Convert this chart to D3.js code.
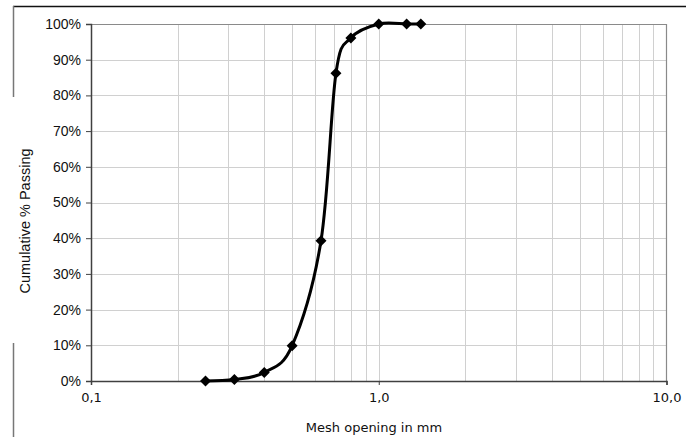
<!DOCTYPE html>
<html>
<head>
<meta charset="utf-8">
<script src="https://cdn.jsdelivr.net/npm/d3@7"></script>
<style>
  body { margin: 0; background: #fff; }
  svg { display: block; }
</style>
</head>
<body>
<div id="chart"></div>
<script>
// mesh openings (mm) and cumulative passing (%)
const meshSizes = [0.25, 0.315, 0.4, 0.5, 0.63, 0.71, 0.8, 1.0, 1.25, 1.4];
const passing = [0, 0.4, 2.4, 9.9, 39.3, 86.2, 96.1, 100, 100, 100];

const xMajorTicks = [0.1, 1, 10];
const xTickLabels = ['0,1', '1,0', '10,0'];
const yTicks = [0, 10, 20, 30, 40, 50, 60, 70, 80, 90, 100];

const width = 686, height = 437;
const plot = { left: 91, right: 666.5, top: 24, bottom: 381 };

const svg = d3.select('#chart').append('svg')
  .attr('width', width)
  .attr('height', height);

const xScale = d3.scaleLog()
  .domain([0.1, 10])
  .range([plot.left, plot.right]);

const yScale = d3.scaleLinear()
  .domain([0, 100])
  .range([plot.bottom, plot.top]);

// outer frame bits
svg.append('line')
  .attr('x1', 13).attr('x2', width).attr('y1', 6.5).attr('y2', 6.5)
  .attr('stroke', '#111').attr('stroke-width', 1.5);
svg.append('line')
  .attr('x1', 13.5).attr('x2', 13.5).attr('y1', 6).attr('y2', 97)
  .attr('stroke', '#777').attr('stroke-width', 1.5);
svg.append('line')
  .attr('x1', 13.5).attr('x2', 13.5).attr('y1', 343).attr('y2', height)
  .attr('stroke', '#777').attr('stroke-width', 1.5);

// grid
const gridX = [];
[0.1, 1].forEach(decade => {
  for (let i = 2; i <= 9; i++) gridX.push(decade * i);
});
gridX.push(1);

svg.append('g')
  .selectAll('line')
  .data(gridX)
  .join('line')
  .attr('x1', d => Math.round(xScale(d)) + 0.5)
  .attr('x2', d => Math.round(xScale(d)) + 0.5)
  .attr('y1', plot.top)
  .attr('y2', plot.bottom)
  .attr('stroke', '#d0d0d0')
  .attr('stroke-width', 1);

svg.append('g')
  .selectAll('line')
  .data(yTicks.filter(d => d > 0 && d < 100))
  .join('line')
  .attr('x1', plot.left)
  .attr('x2', plot.right)
  .attr('y1', d => Math.round(yScale(d)) + 0.5)
  .attr('y2', d => Math.round(yScale(d)) + 0.5)
  .attr('stroke', '#d0d0d0')
  .attr('stroke-width', 1);

// plot border top/right
svg.append('path')
  .attr('d', `M${plot.left},${plot.top + 0.5}H${plot.right}V${plot.bottom}`)
  .attr('fill', 'none')
  .attr('stroke', '#8a8a8a')
  .attr('stroke-width', 1.2);

// y axis
const yAxis = svg.append('g')
  .attr('transform', `translate(${plot.left},0)`)
  .call(d3.axisLeft(yScale).tickValues(yTicks).tickSize(5).tickPadding(5)
    .tickFormat(d => d + '%'));
yAxis.select('.domain').attr('stroke', '#404040').attr('stroke-width', 1.5);
yAxis.selectAll('.tick line').attr('stroke', '#404040');
yAxis.selectAll('text')
  .attr('font-family', 'Liberation Sans, Arial, sans-serif')
  .attr('font-size', 14)
  .attr('fill', '#111');

// x axis
const xAxis = svg.append('g')
  .attr('transform', `translate(0,${plot.bottom})`)
  .call(d3.axisBottom(xScale).tickValues(xMajorTicks).tickSize(4).tickPadding(8)
    .tickFormat((d, i) => xTickLabels[i]));
xAxis.select('.domain').attr('stroke', '#404040').attr('stroke-width', 1.5);
xAxis.selectAll('.tick line').attr('stroke', '#404040');
xAxis.selectAll('text')
  .attr('font-family', 'DejaVu Sans, Verdana, sans-serif')
  .attr('font-size', 13)
  .attr('fill', '#111');

// axis titles
svg.append('text')
  .attr('x', 374)
  .attr('y', 432)
  .attr('text-anchor', 'middle')
  .attr('font-family', 'DejaVu Sans, Verdana, sans-serif')
  .attr('font-size', 13)
  .attr('fill', '#111')
  .text('Mesh opening in mm');

svg.append('text')
  .attr('transform', 'translate(30,221) rotate(-90)')
  .attr('text-anchor', 'middle')
  .attr('font-family', 'Liberation Sans, Arial, sans-serif')
  .attr('font-size', 14.5)
  .attr('fill', '#111')
  .text('Cumulative % Passing');

// series
const points = meshSizes.map((d, i) => ({ size: d, pct: passing[i] }));

const line = d3.line()
  .x(d => xScale(d.size))
  .y(d => yScale(d.pct))
  .curve(d3.curveCardinal.tension(0));

svg.append('path')
  .datum(points)
  .attr('d', line)
  .attr('fill', 'none')
  .attr('stroke', '#000')
  .attr('stroke-width', 3);

svg.append('g')
  .selectAll('path')
  .data(points)
  .join('path')
  .attr('transform', d => `translate(${xScale(d.size)},${yScale(d.pct)})`)
  .attr('d', 'M0,-5.5L5.5,0L0,5.5L-5.5,0Z')
  .attr('fill', '#000');
</script>
</body>
</html>
